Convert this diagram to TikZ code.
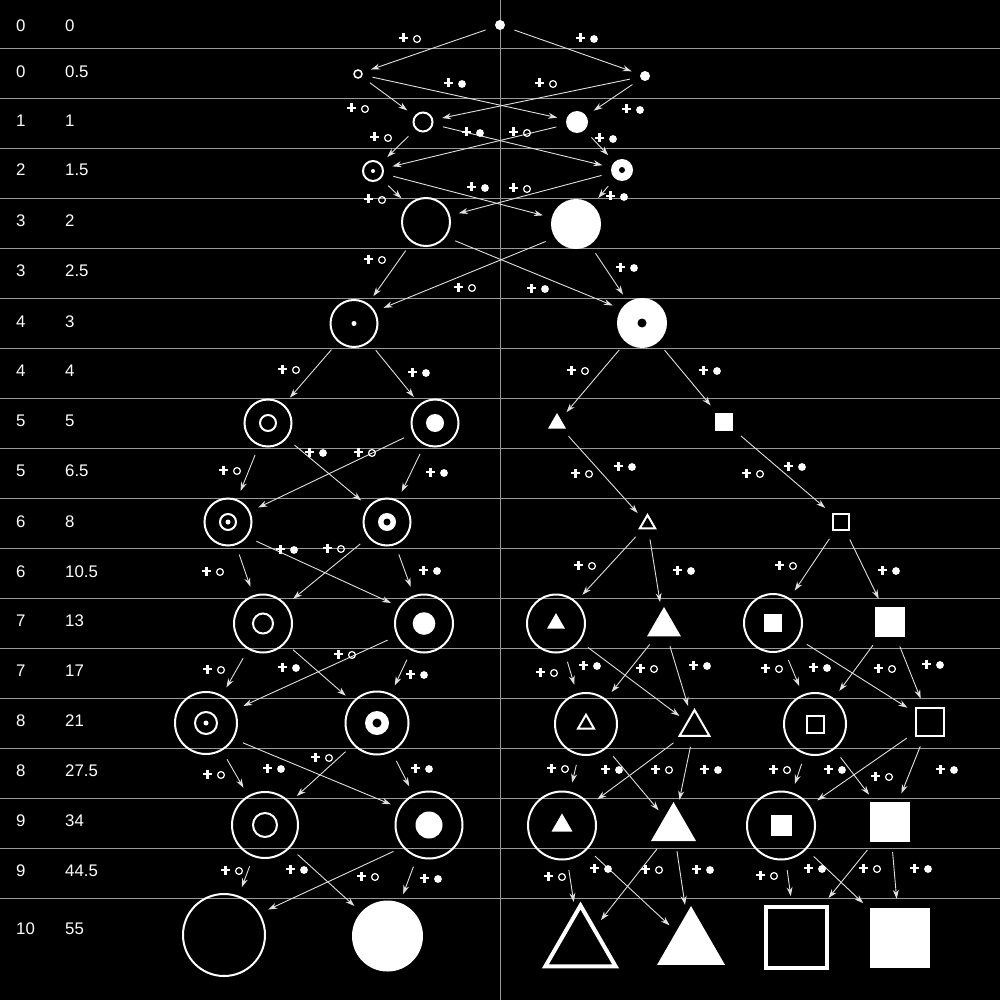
\documentclass[tikz,border=0pt]{standalone}
\usepackage{fontspec}
\setmainfont{Liberation Sans}
\usetikzlibrary{shapes.geometric,arrows.meta}
\definecolor{rulegray}{gray}{0.6}
\definecolor{arrowgray}{gray}{0.88}
\begin{document}
\begin{tikzpicture}[x=1pt,y=-1pt,font=\fontsize{16.8}{20}\selectfont]
      \tikzset{
        fdot/.style={circle,fill=white,inner sep=0,minimum size=#1},
        hole/.style={circle,fill=black,inner sep=0,minimum size=#1},
        ring/.style={circle,draw=white,line width=2,inner sep=0,minimum size=#1},
        thinring/.style={circle,draw=white,line width=1.5,inner sep=0,minimum size=#1},
        ftri/.style={regular polygon,regular polygon sides=3,fill=white,inner sep=0,minimum size=#1},
        htri/.style={regular polygon,regular polygon sides=3,draw=white,line width=2,inner sep=0,minimum size=#1},
        fsq/.style={rectangle,fill=white,inner sep=0,minimum size=#1},
        hsq/.style={rectangle,draw=white,line width=2,inner sep=0,minimum size=#1},
        arr/.style={draw=arrowgray,line width=0.9pt,-{Stealth[length=9pt,width=6pt]},shorten <=10pt,shorten >=9pt},
        num/.style={text=white,anchor=west,inner sep=0},
        plusopen/.pic={
          \draw[white,line width=2.2] (-11,0) -- (-2,0) (-6.5,-4.5) -- (-6.5,4.5);
          \draw[white,line width=1.2] (7,1) circle (3.4);
        },
        plusfull/.pic={
          \draw[white,line width=2.2] (-11,0) -- (-2,0) (-6.5,-4.5) -- (-6.5,4.5);
          \fill[white] (7,1) circle (3.9);
        }
      }
      \fill[black] (0,0) rectangle (1000,1000);
      \useasboundingbox (0,0) rectangle (1000,1000);

      % rows and middle line
      \foreach \k in {0,...,17}
        \draw[rulegray,line width=1] (0,48.8+50*\k) -- (1000,48.8+50*\k);
      \draw[rulegray,line width=1] (500,0) -- (500,1000);

      % left columns
      \foreach \n/\v/\y [count=\i] in {0/0/26,0/0.5/72,1/1/121,2/1.5/170,3/2/221,3/2.5/271,
          4/3/322,4/4/371,5/5/421,5/6.5/471,6/8/522,6/10.5/572,7/13/621,7/17/671,
          8/21/721,8/27.5/771,9/34/821,9/44.5/871,10/55/929}{
        \node[num] (n\i) at (16,\y) {\n};
        \node[num] (v\i) at (65,\y) {\v};
      }

      % circles, first rows
      \node[fdot=10] (a0) at (500,25) {};
      \node[thinring=8] (a1l) at (358,74) {};
      \node[fdot=10] (a1r) at (645,76) {};
      \node[ring=19] (a2l) at (423,122) {};
      \node[fdot=22] (a2r) at (577,122) {};
      \node[ring=20,label={[fdot=4]center:}] (a3l) at (373,171) {};
      \node[fdot=22,label={[hole=6]center:}] (a3r) at (622,170) {};
      \node[ring=48] (a4l) at (426,222) {};
      \node[fdot=50] (a4r) at (576,224) {};
      \node[ring=47,label={[fdot=5]center:}] (a5l) at (354,323.5) {};
      \node[fdot=50,label={[hole=9]center:}] (a5r) at (642,323) {};

      % row 5
      \node[ring=47,label={[ring=16]center:}] (b1) at (268,423) {};
      \node[ring=47,label={[fdot=18]center:}] (b2) at (435,423) {};
      \node[ftri=20.8] (t1) at (557,423.4) {};
      \node[fsq=18] (s1) at (724,421.5) {};

      % row 8
      \node[ring=47,label={[ring=16]center:},label={[fdot=5]center:}] (c1) at (228,522) {};
      \node[ring=47,label={[fdot=18]center:},label={[hole=7]center:}] (c2) at (387,522) {};
      \node[htri=17.9] (t2) at (647.5,524) {};
      \node[hsq=16] (s2) at (841,521.5) {};

      % row 13
      \node[ring=58,label={[ring=20]center:}] (d1) at (263,623.5) {};
      \node[ring=58,label={[fdot=22.6]center:}] (d2) at (424,623.5) {};
      \node[ring=58,label={[ftri=20.8]center:}] (d3) at (556,623.5) {};
      \node[ftri=39.3] (d4) at (664,626.6) {};
      \node[ring=58,label={[fsq=18]center:}] (d5) at (773,623) {};
      \node[fsq=30] (d6) at (890,622) {};

      % row 21
      \node[ring=62,label={[ring=22]center:},label={[fdot=5]center:}] (e1) at (206,723) {};
      \node[ring=63,label={[fdot=24]center:},label={[hole=9]center:}] (e2) at (377,723) {};
      \node[ring=62,label={[htri=18.5]center:}] (e3) at (586,724) {};
      \node[htri=34.6] (e4) at (694.5,727.3) {};
      \node[ring=62,label={[hsq=17]center:}] (e5) at (815,724) {};
      \node[hsq=28] (e6) at (930,722) {};

      % row 34
      \node[ring=66,label={[ring=24]center:}] (f1) at (265,825) {};
      \node[ring=67,label={[fdot=27]center:}] (f2) at (429,825) {};
      \node[ring=68,label={[ftri=24.2]center:}] (f3) at (562,825.5) {};
      \node[ftri=52] (f4) at (673.5,828) {};
      \node[ring=68,label={[fsq=21]center:}] (f5) at (781,825.5) {};
      \node[fsq=40] (f6) at (890,822) {};

      % row 55
      \node[ring=82] (g1) at (224,935) {};
      \node[fdot=71] (g2) at (387.5,936) {};
      \node[htri=81,line width=4] (g3) at (580.5,946) {};
      \node[ftri=78.5] (g4) at (691,945.3) {};
      \node[hsq=61,line width=4] (g5) at (796.5,937.5) {};
      \node[fsq=60] (g6) at (900,938) {};

      % arrows
      \foreach \s/\t in {a0/a1l,a0/a1r,
          a1l/a2l,a1l/a2r,a1r/a2l,a1r/a2r,
          a2l/a3l,a2l/a3r,a2r/a3l,a2r/a3r,
          a3l/a4l,a3l/a4r,a3r/a4l,a3r/a4r,
          a4l/a5l,a4l.-37/a5r.146,a4r.213/a5l.30,a4r/a5r,
          a5l/b1,a5l/b2,a5r/t1,a5r/s1,
          b1/c1,b1/c2,b2/c1,b2/c2,t1/t2,s1/s2,
          c1/d1,c1.-38/d2.146,c2/d1,c2/d2,t2/d3,t2/d4,s2/d5,s2/d6,
          d1/e1,d1/e2,d2/e1,d2/e2,d3/e3,d3/e4,d4/e3,d4/e4,d5/e5,d5/e6,d6/e5,d6/e6,
          e1/f1,e1.-30/f2.150,e2/f1,e2/f2,e3/f3,e3/f4,e4/f3,e4/f4,e5/f5,e5/f6,e6/f5,e6/f6,
          f1/g1,f1/g2,f2.-140/g1.31,f2/g2,f3/g3,f3/g4,f4/g3,f4/g4,f5/g5,f5/g6,f6/g5,f6/g6}
        \draw[arr] (\s) -- (\t);

      % + open
      \foreach \x/\y [count=\i] in {410/38,546/83,358/108,381/137,520/132,520/188,375/199,
          375/259,465/287,289/369,365/452,230/470,578/370,582/473,753/473,585/565,786/565,
          334/548,213/571,345/654,214/669,547/672,647/668,772/668,885/668,558/768,662/769,
          780/769,882/776,322/757,214/774,232/870,368/876,555/876,652/869,767/875,870/868}
        \pic (po\i) at (\x,\y) {plusopen};

      % + full
      \foreach \x/\y [count=\i] in {587/38,455/83,633/109,473/132,606/138,478/187,617/196,
          627/267,538/288,419/372,316/452,437/472,710/370,625/466,795/466,684/570,889/570,
          287/549,430/570,289/667,417/674,590/665,700/665,820/667,933/664,612/769,711/769,
          835/769,947/769,274/768,422/768,297/869,431/878,601/868,703/869,815/868,921/868}
        \pic (pf\i) at (\x,\y) {plusfull};
\end{tikzpicture}
\end{document}
